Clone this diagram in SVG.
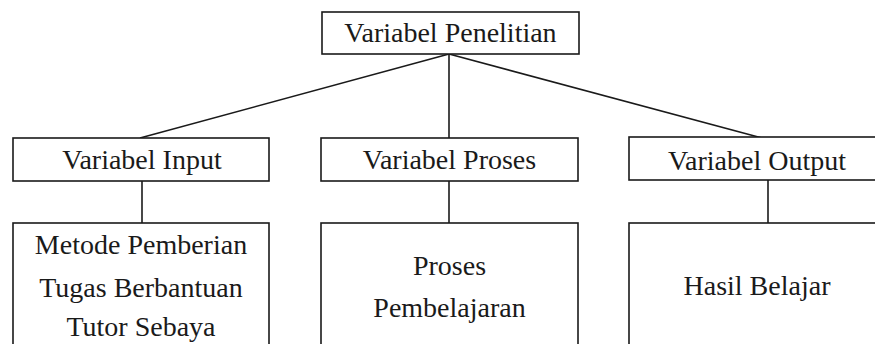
<svg xmlns="http://www.w3.org/2000/svg" width="875" height="344" viewBox="0 0 875 344">
<style>
.box{fill:#fff;stroke:#1a1a1a;stroke-width:1.6}
.lbl{font-family:'Liberation Serif','Times New Roman','Tinos','DejaVu Serif',serif;font-size:28px;fill:#1a1a1a;text-anchor:middle}
.conn{stroke:#1a1a1a;stroke-width:1.6;fill:none}
</style>
<rect width="875" height="344" fill="#fff"/>
<g id="connectors">
<line class="conn" x1="449" y1="54" x2="140" y2="138"/>
<line class="conn" x1="449" y1="54" x2="449" y2="138"/>
<line class="conn" x1="449" y1="54" x2="762" y2="138"/>
<line class="conn" x1="142" y1="181" x2="142" y2="223"/>
<line class="conn" x1="449" y1="181" x2="449" y2="223"/>
<line class="conn" x1="768" y1="180" x2="768" y2="223"/>
</g>
<g id="n-penelitian">
<rect class="box" x="322" y="12" width="257" height="42"/>
<text class="lbl" font-family="Liberation Serif, serif" x="450.5" y="42">Variabel Penelitian</text>
</g>
<g id="n-input">
<rect class="box" x="13" y="138" width="256" height="43"/>
<text class="lbl" x="142" y="169">Variabel Input</text>
</g>
<g id="n-proses">
<rect class="box" x="321" y="138" width="257" height="43"/>
<text class="lbl" x="449.5" y="169">Variabel Proses</text>
</g>
<g id="n-output">
<rect class="box" x="629" y="137" width="260" height="43"/>
<text class="lbl" x="757" y="170">Variabel Output</text>
</g>
<g id="n-metode">
<rect class="box" x="13" y="223" width="256" height="140"/>
<text class="lbl" x="141" y="254">Metode Pemberian</text>
<text class="lbl" x="141" y="297">Tugas Berbantuan</text>
<text class="lbl" x="141" y="336">Tutor Sebaya</text>
</g>
<g id="n-pembelajaran">
<rect class="box" x="321" y="223" width="257" height="140"/>
<text class="lbl" x="449.5" y="275">Proses</text>
<text class="lbl" x="449.5" y="317">Pembelajaran</text>
</g>
<g id="n-hasil">
<rect class="box" x="629" y="223" width="260" height="140"/>
<text class="lbl" x="757" y="295">Hasil Belajar</text>
</g>
</svg>
